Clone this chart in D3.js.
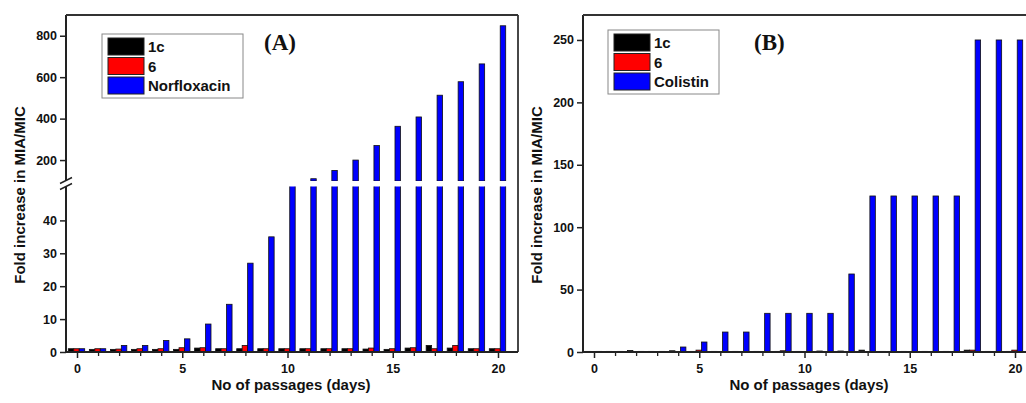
<!DOCTYPE html>
<html>
<head>
<meta charset="utf-8">
<script src="https://cdn.jsdelivr.net/npm/d3@7"></script>
<style>
  body { margin: 0; background: #fff; }
  svg text { font-family: "Liberation Sans", Arial, sans-serif; font-weight: bold; fill: #111; }
</style>
</head>
<body>
<div id="chart"></div>
<script>
// Data
var days = [0,1,2,3,4,5,6,7,8,9,10,11,12,13,14,15,16,17,18,19,20];

// panel A
var a_1c   = [1,0.8,0.8,0.8,0.8,0.8,1.2,1,1,1,1,1,1,1,0.9,0.8,1.2,2,1.2,1,1];
var a_6    = [1,1,0.9,1,1,1.3,1.3,1,2,1,1,1,1,1,1.2,1,1.3,1,2,1,1];
var a_norf = [1,1,2,2,3.5,4,8.5,14.5,27,35,64,110,150,200,270,363,408,513,578,664,848];
var a_lowTicks = [0,10,20,30,40];
var a_highTicks = [200,400,600,800];

// panel B
var b_1c   = [0.5,0.5,1.2,0.5,1,0.5,0.5,0.5,0.5,0.5,0.5,0.8,0.8,1.5,0.5,0.5,0.5,0.5,1.5,0.5,0.5];
var b_6    = [0.3,0.3,0.3,0.3,0.3,1.5,0.3,0.3,0.3,1,0.3,0.3,0.3,0.3,0.3,0.3,0.3,0.3,1.5,0.3,1.5];
var b_col  = [0.5,0.5,0.5,0.5,4,8,16,16,31,31,31,31,62.5,125,125,125,125,125,250,250,250];
var b_ticks = [0,50,100,150,200,250];

var xTicks = [0,5,10,15,20];
var colors = ["#000000", "#ff0000", "#0000ff"];

var svg = d3.select("#chart").append("svg")
    .attr("width", 1026).attr("height", 403);

function drawPanel(p) {
  var g = svg.append("g");
  var x = d3.scaleLinear().domain([0, 20]).range([p.x0, p.x20]);
  var sub = d3.scaleBand().domain([0,1,2]).range([-8.2, 8.2]).padding(0);
  var series = p.series;

  // y segments (panel A has a broken axis)
  p.segments.forEach(function(seg) {
    var y = d3.scaleLinear().domain(seg.domain).range(seg.range);
    var clipId = "clip" + p.id + seg.name;
    g.append("clipPath").attr("id", clipId).append("rect")
      .attr("x", p.left).attr("y", seg.range[1])
      .attr("width", p.right - p.left).attr("height", seg.range[0] - seg.range[1]);

    var bars = g.append("g").attr("clip-path", "url(#" + clipId + ")");
    series.forEach(function(vals, si) {
      bars.selectAll(null).data(days).enter().append("rect")
        .attr("x", function(d) { return x(d) + sub(si) - 0.5; })
        .attr("width", sub.bandwidth())
        .attr("y", function(d) { return y(Math.min(vals[d], seg.domain[1] + 50)); })
        .attr("height", function(d) {
          var v = vals[d];
          if (v <= seg.domain[0]) return 0;
          return y(seg.domain[0]) - y(Math.min(v, seg.domain[1] + 50));
        })
        .attr("fill", colors[si])
        .attr("stroke", "#111")
        .attr("stroke-width", 0.8);
    });

    var ax = g.append("g").attr("transform", "translate(" + p.left + ",0)")
      .call(d3.axisLeft(y).tickValues(seg.ticks).tickSize(6).tickPadding(3).tickFormat(d3.format("d")));
    ax.select(".domain").remove();
    ax.selectAll("line").attr("stroke", "#222").attr("stroke-width", 1.5);
    ax.selectAll("text").style("font-size", "12.5px");

    g.append("line").attr("x1", p.left).attr("x2", p.left)
      .attr("y1", seg.range[0]).attr("y2", seg.range[1])
      .attr("stroke", "#222").attr("stroke-width", 2);
  });

  // axis break marks
  if (p.breakY) {
    [-3, 3].forEach(function(o) {
      g.append("line")
        .attr("x1", p.left - 6).attr("y1", p.breakY + o + 3)
        .attr("x2", p.left + 6).attr("y2", p.breakY + o - 3)
        .attr("stroke", "#222").attr("stroke-width", 1.4);
    });
  }

  // frame top / right
  g.append("line").attr("x1", p.left).attr("x2", p.right).attr("y1", p.top).attr("y2", p.top)
    .attr("stroke", "#333").attr("stroke-width", 1.8);
  g.append("line").attr("x1", p.right).attr("x2", p.right).attr("y1", p.top).attr("y2", p.bottom)
    .attr("stroke", "#333").attr("stroke-width", 1.8);

  // x axis
  var xa = g.append("g").attr("transform", "translate(0," + p.bottom + ")")
    .call(d3.axisBottom(x).tickValues(xTicks).tickSize(6).tickPadding(6).tickFormat(d3.format("d")));
  xa.select(".domain").remove();
  xa.selectAll("line").attr("stroke", "#222").attr("stroke-width", 1.5);
  xa.selectAll("text").style("font-size", "12.5px");
  var xm = g.append("g").attr("transform", "translate(0," + p.bottom + ")")
    .call(d3.axisBottom(x).tickValues(days.filter(function(d) { return d % 5; })).tickSize(4).tickFormat(""));
  xm.select(".domain").remove();
  xm.selectAll("line").attr("stroke", "#222").attr("stroke-width", 1.3);
  g.append("line").attr("x1", p.left).attr("x2", p.right).attr("y1", p.bottom).attr("y2", p.bottom)
    .attr("stroke", "#222").attr("stroke-width", 2);

  // titles
  g.append("text").attr("x", p.xTitleX).attr("y", 390).attr("text-anchor", "middle")
    .style("font-size", "15px").text("No of passages (days)");
  g.append("text").attr("transform", "translate(" + p.yTitleX + ",195) rotate(-90)")
    .attr("text-anchor", "middle").style("font-size", "15px").text("Fold increase in MIA/MIC");
  g.append("text").attr("x", p.tagX).attr("y", 50)
    .style("font-family", "'Liberation Serif', 'Times New Roman', serif")
    .style("font-size", "23px").style("font-weight", "bold").text(p.tag);

  // legend
  var lg = g.append("g").attr("transform", "translate(" + p.legX + "," + p.legY + ")");
  lg.append("rect").attr("width", p.legW).attr("height", 64)
    .attr("fill", "#fff").attr("stroke", "#888").attr("stroke-width", 1);
  p.names.forEach(function(n, i) {
    lg.append("rect").attr("x", 6).attr("y", 4 + i * 19.5).attr("width", 36).attr("height", 17)
      .attr("fill", colors[i]).attr("stroke", "#222").attr("stroke-width", 1);
    lg.append("text").attr("x", 46).attr("y", 18 + i * 19.5).style("font-size", "15px").text(n);
  });
}

drawPanel({
  id: "A", left: 66, right: 518, top: 15, bottom: 352, x0: 77, x20: 498,
  series: [a_1c, a_6, a_norf],
  segments: [
    { name: "low", domain: [0, 50.3], range: [352, 186.5], ticks: a_lowTicks },
    { name: "high", domain: [99, 900], range: [181, 15], ticks: a_highTicks }
  ],
  breakY: 183.5,
  xTitleX: 291, yTitleX: 25, tag: "(A)", tagX: 264,
  legX: 102, legY: 34, legW: 141, names: ["1c", "6", "Norfloxacin"]
});

drawPanel({
  id: "B", left: 583, right: 1030, top: 15, bottom: 352, x0: 594, x20: 1015,
  series: [b_1c, b_6, b_col],
  segments: [
    { name: "all", domain: [0, 270], range: [352, 15], ticks: b_ticks }
  ],
  breakY: null,
  xTitleX: 809, yTitleX: 542, tag: "(B)", tagX: 754,
  legX: 608, legY: 30, legW: 111, names: ["1c", "6", "Colistin"]
});
</script>
</body>
</html>
